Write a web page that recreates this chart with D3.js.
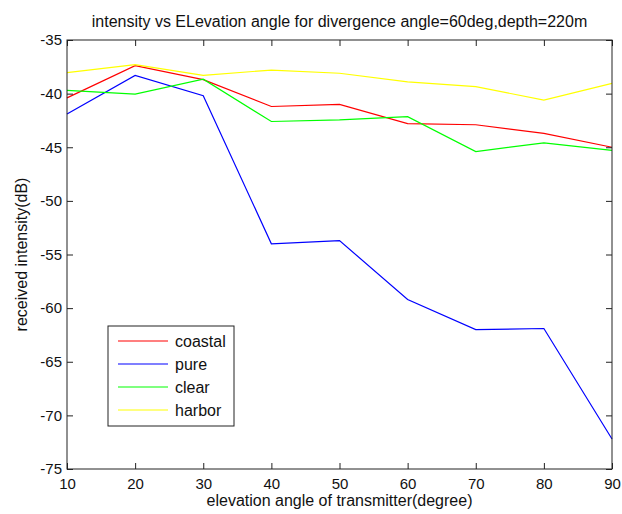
<!DOCTYPE html>
<html>
<head>
<meta charset="utf-8">
<script src="https://cdn.jsdelivr.net/npm/d3@7"></script>
<style>
  html, body { margin: 0; padding: 0; background: #fff; }
  svg { display: block; font-family: "Liberation Sans", Arial, sans-serif; }
</style>
</head>
<body>
<svg id="chart" width="622" height="514"></svg>
<script>
// Elevation angles of the transmitter (degrees)
const angles = [10, 20, 30, 40, 50, 60, 70, 80, 90];

// Received intensity (dB) per water type
const coastal = [-40.4, -37.4, -38.7, -41.2, -41.0, -42.8, -42.9, -43.7, -45.0];
const pure    = [-41.9, -38.3, -40.2, -54.0, -53.7, -59.2, -62.0, -61.9, -72.2];
const clear   = [-39.7, -40.05, -38.65, -42.6, -42.45, -42.15, -45.4, -44.6, -45.3];
const harbor  = [-38.05, -37.3, -38.3, -37.8, -38.1, -38.9, -39.35, -40.6, -39.05];

const seriesNames  = ["coastal", "pure", "clear", "harbor"];
const seriesValues = [coastal, pure, clear, harbor];
const seriesColors = ["#ff0000", "#0000ff", "#00ff00", "#ffff00"];

const xTicks = [10, 20, 30, 40, 50, 60, 70, 80, 90];
const yTicks = [-75, -70, -65, -60, -55, -50, -45, -40, -35];

const titleText  = "intensity vs ELevation angle for divergence angle=60deg,depth=220m";
const xLabelText = "elevation angle of transmitter(degree)";
const yLabelText = "received intensity(dB)";

const margin = { left: 67, top: 40, right: 10, bottom: 45 };
const width = 622, height = 514;
const plotW = width - margin.left - margin.right;   // 545
const plotH = height - margin.top - margin.bottom;  // 429

const svg = d3.select("#chart");
const g = svg.append("g").attr("transform", `translate(${margin.left},${margin.top})`);

const x = d3.scaleLinear().domain([10, 90]).range([0, plotW]);
const y = d3.scaleLinear().domain([-75, -35]).range([plotH, 0]);

const tickLen = 6;
const textColor = "#111";
const plainNumber = d => String(d);   // ASCII hyphen for negatives

// Series lines
const line = d3.line()
  .x((d, i) => x(angles[i]))
  .y(d => y(d));

seriesValues.forEach((vals, k) => {
  g.append("path")
    .datum(vals)
    .attr("fill", "none")
    .attr("stroke", seriesColors[k])
    .attr("stroke-width", 1.2)
    .attr("d", line);
});

// Axes: inward ticks on all four sides (boxed frame)
const axisBottom = d3.axisBottom(x).tickValues(xTicks).tickSizeInner(-tickLen).tickSizeOuter(0)
  .tickPadding(9).tickFormat(plainNumber);
const axisTop    = d3.axisTop(x).tickValues(xTicks).tickSizeInner(-tickLen).tickSizeOuter(0).tickFormat("");
const axisLeft   = d3.axisLeft(y).tickValues(yTicks).tickSizeInner(-tickLen).tickSizeOuter(0)
  .tickPadding(5).tickFormat(plainNumber);
const axisRight  = d3.axisRight(y).tickValues(yTicks).tickSizeInner(-tickLen).tickSizeOuter(0).tickFormat("");

function styleAxis(sel) {
  sel.select(".domain").remove();
  sel.selectAll(".tick line").attr("stroke", "#222").attr("stroke-width", 1);
  sel.selectAll(".tick text")
    .attr("fill", textColor)
    .style("font-size", "15px")
    .style("font-family", "'Liberation Sans', Arial, sans-serif");
}

g.append("g").attr("transform", `translate(0,${plotH})`).call(axisBottom).call(styleAxis);
g.append("g").call(axisTop).call(styleAxis);
g.append("g").call(axisLeft).call(styleAxis);
g.append("g").attr("transform", `translate(${plotW},0)`).call(axisRight).call(styleAxis);

// Frame
g.append("rect")
  .attr("x", 0).attr("y", 0)
  .attr("width", plotW).attr("height", plotH)
  .attr("fill", "none")
  .attr("stroke", "#222")
  .attr("stroke-width", 1);

// Title and axis labels
svg.append("text")
  .attr("x", margin.left + plotW / 2)
  .attr("y", 27)
  .attr("text-anchor", "middle")
  .attr("fill", textColor)
  .style("font-size", "16px")
  .text(titleText);

svg.append("text")
  .attr("x", margin.left + plotW / 2)
  .attr("y", 506)
  .attr("text-anchor", "middle")
  .attr("fill", textColor)
  .style("font-size", "16px")
  .text(xLabelText);

svg.append("text")
  .attr("transform", `translate(27,${margin.top + plotH / 2}) rotate(-90)`)
  .attr("text-anchor", "middle")
  .attr("fill", textColor)
  .style("font-size", "16px")
  .text(yLabelText);

// Legend
const legend = svg.append("g").attr("transform", "translate(108,326)");
legend.append("rect")
  .attr("x", 0).attr("y", 0)
  .attr("width", 126).attr("height", 100)
  .attr("fill", "#fff")
  .attr("stroke", "#222")
  .attr("stroke-width", 1);

seriesNames.forEach((name, k) => {
  const cy = 15 + k * 23;
  legend.append("line")
    .attr("x1", 10).attr("x2", 60)
    .attr("y1", cy).attr("y2", cy)
    .attr("stroke", seriesColors[k])
    .attr("stroke-width", 1.2);
  legend.append("text")
    .attr("x", 67).attr("y", cy + 5.5)
    .attr("fill", textColor)
    .style("font-size", "16px")
    .text(name);
});
</script>
</body>
</html>
